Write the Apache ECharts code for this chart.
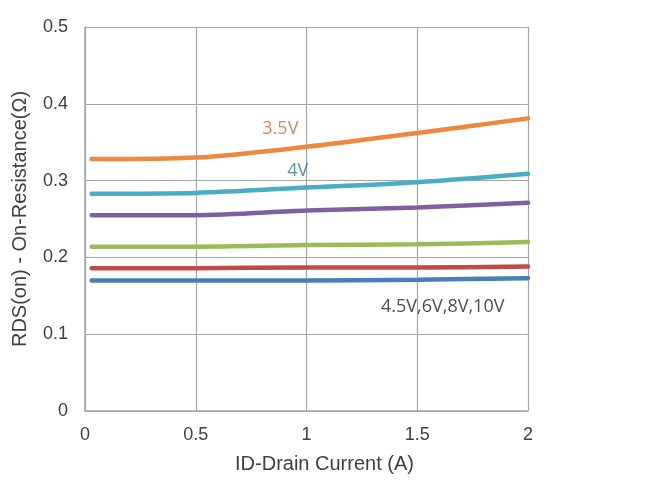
<!DOCTYPE html>
<html>
<head>
<meta charset="utf-8">
<script src="https://cdn.jsdelivr.net/npm/echarts@6/dist/echarts.min.js"></script>
<style>
  html, body { margin: 0; padding: 0; background: #fff; }
  #chart { width: 667px; height: 484px; }
</style>
</head>
<body>
<div id="chart"></div>
<script>
// Drain current sample points (A)
const currents = [0.03, 0.5, 1.0, 1.5, 2.0];

// On-resistance (ohm) per gate voltage
const vgs35 = [0.328, 0.330, 0.344, 0.362, 0.381];
const vgs4 = [0.283, 0.284, 0.291, 0.298, 0.309];
const vgs45 = [0.255, 0.255, 0.261, 0.265, 0.271];
const vgs6 = [0.214, 0.214, 0.216, 0.217, 0.220];
const vgs8 = [0.186, 0.186, 0.187, 0.187, 0.188];
const vgs10 = [0.170, 0.170, 0.170, 0.171, 0.173];

const yTicks = [0, 0.1, 0.2, 0.3, 0.4, 0.5];
const xTicks = [0, 0.5, 1, 1.5, 2];

const curves = [
  { name: '3.5V', values: vgs35, color: '#EB8A3E' },
  { name: '4V', values: vgs4, color: '#4BACC6' },
  { name: '4.5V', values: vgs45, color: '#7E5FA2' },
  { name: '6V', values: vgs6, color: '#9BBB59' },
  { name: '8V', values: vgs8, color: '#BE4B48' },
  { name: '10V', values: vgs10, color: '#4A7EBB' }
];

const curveLabels = [
  { text: '3.5V', at: [0.882, 0.368], color: '#C0703A' },
  { text: '4V', at: [0.96, 0.313], color: '#2E7A8C' },
  { text: '4.5V,6V,8V,10V', at: [1.615, 0.135], color: '#222222' }
];

const gridColor = '#A6A6A6';
const tickFont = { color: '#404040', fontSize: 18, fontFamily: 'Liberation Sans' };
const titleFont = { color: '#404040', fontSize: 20, fontFamily: 'Liberation Sans' };

const series = curves.map(c => ({
  name: c.name,
  type: 'line',
  data: currents.map((x, i) => [x, c.values[i]]),
  smooth: 0.3,
  symbol: 'none',
  lineStyle: { color: c.color, width: 4.5, cap: 'round' },
  z: 3
}));

series.push({
  type: 'scatter',
  data: curveLabels.map(l => ({
    value: l.at,
    label: {
      show: true,
      formatter: l.text,
      position: 'inside',
      color: l.color,
      fontSize: 18,
      fontFamily: 'Open Sans'
    }
  })),
  symbolSize: 0,
  silent: true,
  z: 5
});

const chart = echarts.init(document.getElementById('chart'), null, { renderer: 'canvas' });
chart.setOption({
  animation: false,
  backgroundColor: '#ffffff',
  grid: { left: 85, right: 139, top: 27, bottom: 73, containLabel: false },
  xAxis: {
    type: 'value',
    min: 0, max: 2, interval: 0.5,
    name: 'ID-Drain Current (A)',
    nameLocation: 'middle',
    nameGap: 43,
    nameTextStyle: { ...titleFont, padding: [0, 0, 0, 36] },
    axisLine: { show: true, lineStyle: { color: gridColor, width: 1.5 } },
    axisTick: { show: false },
    axisLabel: {
      ...tickFont,
      margin: 15,
      formatter: v => (xTicks.includes(v) ? String(v) : '')
    },
    splitLine: { show: true, lineStyle: { color: gridColor, width: 1.2 } }
  },
  yAxis: {
    type: 'value',
    min: 0, max: 0.5, interval: 0.1,
    name: 'RDS(on) - On-Resistance(Ω)',
    nameLocation: 'middle',
    nameGap: 55,
    nameRotate: 90,
    nameTextStyle: titleFont,
    axisLine: { show: true, lineStyle: { color: gridColor, width: 1.5 } },
    axisTick: { show: false },
    axisLabel: {
      ...tickFont,
      margin: 17,
      formatter: v => {
        const t = yTicks.find(k => Math.abs(k - v) < 1e-9);
        return t === undefined ? '' : String(t);
      }
    },
    splitLine: { show: true, lineStyle: { color: gridColor, width: 1.2 } }
  },
  series: series
});
</script>
</body>
</html>
